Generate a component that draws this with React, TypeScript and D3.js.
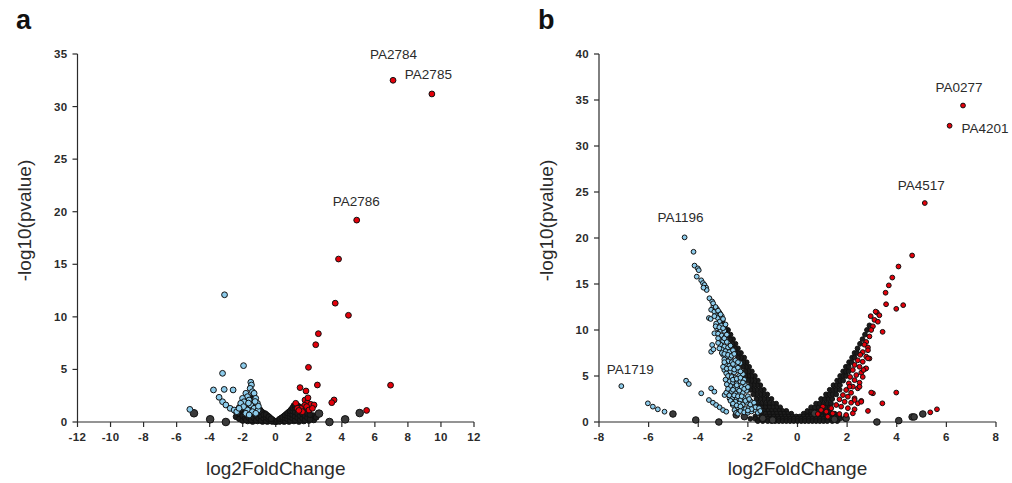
import React from "react";
import * as d3 from "d3";

type P = [number, number];
type Row = [number, number[]];

// ---------- panel a ----------
const aXTicks = [-12, -10, -8, -6, -4, -2, 0, 2, 4, 6, 8, 10, 12];
const aYTicks = [0, 5, 10, 15, 20, 25, 30, 35];

const aRed: P[] = [
  [7.1, 32.5], [9.45, 31.2], [4.9, 19.2], [3.8, 15.5], [3.6, 11.3], [4.4, 10.15],
  [2.58, 8.4], [2.42, 7.35], [1.98, 5.2], [2.52, 3.52], [6.95, 3.5], [1.47, 3.27],
  [1.83, 2.95], [3.53, 2.1], [3.39, 1.84], [5.5, 1.1], [1.21, 1.78], [1.77, 2.09],
  [1.92, 1.84], [2.12, 1.68], [1.75, 1.59], [1.87, 1.46], [1.51, 1.3], [2.01, 1.14],
  [2.32, 1.62], [1.61, 0.98], [1.31, 1.3], [2.22, 1.3], [1.95, 2.3], [1.4, 1.1],
];

const aBlue: P[] = [
  [-3.1, 12.1], [-1.95, 5.36], [-3.22, 4.63], [-1.51, 3.78], [-1.47, 3.52], [-1.55, 3.2],
  [-1.41, 2.88], [-1.31, 2.73], [-3.77, 3.05], [-3.12, 3.1], [-2.58, 3.05], [-3.43, 2.35],
  [-3.22, 1.93], [-3.02, 1.62], [-2.76, 1.3], [-2.52, 1.14], [-2.36, 0.98], [-1.81, 2.73],
  [-1.71, 2.41], [-2.01, 2.25], [-1.92, 1.93], [-2.12, 1.78], [-1.61, 2.09], [-1.21, 2.25],
  [-1.11, 1.78], [-1.51, 1.62], [-1.31, 1.3], [-1.71, 1.14], [-1.07, 1.14], [-1.95, 1.46],
  [-2.22, 1.3], [-1.41, 0.98], [-1.81, 0.83], [-1.21, 0.83], [-1.61, 0.67], [-5.2, 1.2],
  [-1.05, 1.5], [-1.25, 1.95], [-1.65, 1.8],
];

const aGrey: P[] = [
  [-4.95, 0.83], [-3.97, 0.26], [-3.02, 0], [2.62, 0.8], [3.25, 0], [4.2, 0.25], [5.08, 0.85],
];

// black cloud, listed by column: [x, ys]
const aBlackCols: Row[] = [
  [-2.4, [0.5, 1.0]], [-2.2, [0.3, 0.8, 1.4]], [-2.0, [0.15, 0.6, 1.1, 1.6]],
  [-1.85, [0.35, 0.9, 1.4, 1.9]], [-1.7, [0.1, 0.6, 1.15, 1.7, 2.2]],
  [-1.55, [0.3, 0.8, 1.3, 1.8, 2.3]], [-1.4, [0.05, 0.5, 1.0, 1.5, 2.0]],
  [-1.25, [0.25, 0.7, 1.2, 1.65]], [-1.1, [0.1, 0.5, 0.95, 1.4]], [-0.95, [0.3, 0.7, 1.15]],
  [-0.8, [0.05, 0.45, 0.9]], [-0.65, [0.2, 0.55, 0.8]], [-0.5, [0.05, 0.35, 0.6]],
  [-0.35, [0.15, 0.4]], [-0.2, [0.05, 0.22]], [-0.08, [0.08]], [0, [0.02]], [0.1, [0.1]],
  [0.22, [0.05, 0.25]], [0.35, [0.15, 0.38]], [0.5, [0.05, 0.3, 0.55]],
  [0.65, [0.2, 0.5, 0.75]], [0.8, [0.05, 0.4, 0.7, 0.95]], [0.95, [0.25, 0.6, 0.95, 1.2]],
  [1.1, [0.1, 0.45, 0.85, 1.25, 1.55]], [1.25, [0.3, 0.7, 1.1, 1.5]],
  [1.4, [0.05, 0.5, 0.9, 1.3]], [1.55, [0.25, 0.65, 1.05]], [1.7, [0.1, 0.5, 0.85, 1.2]],
  [1.85, [0.3, 0.7]], [2.0, [0.15, 0.55, 0.95]], [2.15, [0.35]], [2.3, [0.2, 0.6]], [2.45, [0.45]],
  [-1.78, [0.2, 0.75, 1.25, 1.75]], [-1.63, [0.4, 0.95, 1.45, 1.95]],
  [-1.48, [0.2, 0.7, 1.2, 1.7, 2.15]], [-1.33, [0.4, 0.85, 1.35, 1.8]],
  [-1.18, [0.15, 0.6, 1.05, 1.5]], [-1.03, [0.35, 0.8, 1.25]], [-0.88, [0.15, 0.55, 1.0]],
  [-0.72, [0.35, 0.7]], [-0.58, [0.1, 0.45, 0.7]], [-0.42, [0.25, 0.5]], [-0.28, [0.1, 0.3]],
  [0.28, [0.1, 0.3]], [0.42, [0.25, 0.45]], [0.58, [0.1, 0.4, 0.65]], [0.72, [0.3, 0.6, 0.85]],
  [0.88, [0.15, 0.5, 0.8, 1.05]], [1.03, [0.35, 0.7, 1.05, 1.35]],
  [1.18, [0.2, 0.55, 0.95, 1.35, 1.6]], [1.33, [0.4, 0.8, 1.2, 1.55]],
  [1.48, [0.2, 0.6, 1.0, 1.4]], [1.63, [0.35, 0.75, 1.15]], [1.78, [0.2, 0.6, 1.0]],
  [1.92, [0.4, 0.8]], [2.08, [0.25, 0.7]],
];

// ---------- panel b ----------
const bXTicks = [-8, -6, -4, -2, 0, 2, 4, 6, 8];
const bYTicks = [0, 5, 10, 15, 20, 25, 30, 35, 40];

const bRed: P[] = [
  [6.67, 34.4], [6.13, 32.2], [5.13, 23.8], [4.62, 18.1], [4.07, 16.9], [3.82, 15.7],
  [3.68, 14.85], [3.55, 14.05], [3.57, 12.8], [3.98, 12.3], [4.26, 12.7], [3.43, 9.8],
  [3.98, 3.2], [3.04, 3.12], [3.42, 2.03], [2.84, 1.2], [5.62, 1.38], [5.35, 1.05],
  [3.2, 11.9], [3.3, 11.6], [3.1, 11.1], [3.24, 10.9], [3.04, 10.4], [2.97, 10.0],
  [2.9, 9.3], [2.77, 8.7], [2.7, 8.4], [2.84, 8.1], [2.63, 7.6], [2.84, 7.8],
  [2.53, 7.3], [2.77, 7.1], [2.9, 6.9], [2.43, 6.7], [2.63, 6.55], [2.3, 6.2],
  [2.5, 6.0], [2.74, 5.8], [2.23, 5.65], [2.57, 5.36], [2.37, 5.1], [2.12, 4.9],
  [2.63, 4.9], [2.3, 4.55], [2.5, 4.27], [2.07, 4.2], [2.23, 3.84], [2.43, 3.66],
  [1.96, 3.48], [2.16, 3.18], [1.83, 2.93], [2.03, 2.75], [2.3, 2.57], [1.69, 2.46],
  [1.9, 2.2], [2.16, 2.1], [2.43, 2.03], [2.57, 2.3], [1.56, 1.85], [1.76, 1.67],
  [2.03, 1.5], [2.3, 1.38], [1.36, 1.5], [1.16, 1.12], [1.42, 0.94], [1.69, 0.87],
  [1.02, 1.67], [0.82, 0.87], [1.96, 0.76], [1.22, 0.58], [2.23, 0.94], [0.95, 1.3],
  [2.97, 3.2], [2.57, 2.2], [2.3, 2.39], [2.5, 3.84], [2.1, 3.84], [2.77, 5.83],
  [2.66, 5.65], [2.84, 6.92], [2.95, 11.5], [3.15, 12.0],
];

const bBlue: P[] = [
  [-7.1, 3.9], [-6.03, 2.03], [-5.83, 1.67], [-5.63, 1.38], [-5.36, 1.12],
  [-4.49, 4.49], [-4.38, 4.13], [-3.88, 3.12],
  [-4.55, 20.07], [-4.19, 18.5], [-4.15, 17.0], [-4.02, 16.7], [-3.98, 16.5], [-4.06, 15.8],
  [-3.88, 15.4], [-3.81, 15.1], [-3.75, 14.9], [-3.68, 14.6], [-3.66, 14.35], [-3.79, 14.6],
  [-3.55, 13.45], [-3.44, 13.1], [-3.39, 12.6], [-3.48, 12.2], [-3.35, 12.0], [-3.28, 11.6],
  [-3.21, 11.3], [-3.14, 10.9], [-3.28, 10.7], [-3.08, 10.5], [-3.57, 11.3], [-3.5, 11.2],
  [-3.44, 8.37], [-3.48, 7.64], [-3.39, 7.9], [-3.35, 9.64], [-2.95, 5.65], [-2.87, 5.29],
  [-3.48, 3.66], [-3.35, 3.3], [-3.57, 2.39], [-3.41, 2.1], [-3.28, 1.85], [-3.14, 1.6],
  [-3.0, 1.3], [-2.87, 1.12], [-2.94, 2.93], [-2.87, 3.19], [-2.74, 2.57], [-2.61, 1.85],
  [-2.54, 1.3], [-2.47, 1.0], [-2.4, 0.9],
  [-3.25, 12.3], [-3.15, 11.9], [-3.05, 11.5],
  [-3.25, 10.2], [-3.1, 10.0], [-2.95, 9.9], [-3.2, 9.6], [-3.05, 9.4], [-2.9, 9.3],
  [-3.15, 9.0], [-3.0, 8.8], [-2.85, 8.7], [-3.1, 8.4], [-2.95, 8.2], [-2.8, 8.1],
  [-3.05, 7.9], [-2.9, 7.7], [-2.75, 7.6], [-2.6, 7.8], [-3.0, 7.3], [-2.85, 7.1], [-2.7, 7.0],
  [-2.95, 6.8], [-2.8, 6.6], [-2.65, 6.5], [-2.5, 6.7], [-2.9, 6.3], [-2.75, 6.1], [-2.6, 6.0],
  [-2.45, 6.2], [-2.7, 5.5], [-2.55, 5.4], [-2.4, 5.6], [-2.8, 5.0], [-2.65, 4.9], [-2.5, 4.8],
  [-2.35, 5.0], [-2.2, 5.2], [-2.75, 4.4], [-2.6, 4.3], [-2.45, 4.2], [-2.3, 4.4], [-2.15, 4.6],
  [-2.7, 3.9], [-2.55, 3.7], [-2.4, 3.6], [-2.25, 3.8], [-2.1, 4.0], [-2.65, 3.3], [-2.5, 3.1],
  [-2.35, 3.0], [-2.2, 3.2], [-2.05, 3.4], [-2.6, 2.7], [-2.45, 2.6], [-2.3, 2.4], [-2.15, 2.6],
  [-2.0, 2.8], [-2.5, 2.2], [-2.35, 2.0], [-2.2, 1.9], [-2.05, 2.1], [-1.9, 2.3], [-2.4, 1.6],
  [-2.25, 1.5], [-2.1, 1.4], [-1.95, 1.6], [-1.8, 1.8], [-2.3, 1.2], [-2.15, 1.05], [-2.0, 1.0],
  [-1.85, 1.15], [-1.7, 1.3], [-1.6, 1.0],
  [-3.4, 12.9], [-3.3, 12.5], [-3.2, 12.1], [-3.1, 11.7], [-3.35, 11.5], [-3.0, 11.2],
  [-3.3, 10.4], [-3.15, 10.3], [-3.0, 10.2], [-2.9, 10.6], [-3.2, 9.1], [-2.95, 9.1],
  [-2.85, 9.5], [-3.2, 8.6], [-3.15, 8.0], [-3.05, 7.5], [-2.95, 7.4], [-2.8, 7.3],
  [-2.65, 7.2], [-2.55, 7.4], [-2.7, 8.3], [-3.0, 6.0], [-2.85, 5.8], [-2.7, 5.85],
  [-2.55, 5.7], [-2.4, 5.9], [-2.3, 6.4], [-2.4, 6.5], [-2.95, 6.5], [-2.6, 6.3], [-2.3, 5.5],
  [-2.9, 4.6], [-2.85, 4.1], [-2.6, 4.6], [-2.45, 4.7], [-2.3, 4.8], [-2.2, 4.3], [-2.45, 4.0],
  [-2.15, 3.6], [-2.35, 3.4], [-2.6, 3.5], [-2.8, 3.6], [-2.0, 3.8], [-2.75, 2.9], [-2.55, 2.9],
  [-2.4, 2.8], [-2.25, 2.8], [-2.1, 2.3], [-1.95, 2.5], [-2.7, 2.3], [-2.6, 2.0], [-2.45, 1.8],
  [-2.3, 1.7], [-1.9, 1.9], [-1.75, 2.1], [-1.7, 1.6], [-1.85, 1.4], [-2.0, 1.25], [-1.55, 1.5],
  [-1.5, 1.2],
];

const bGrey: P[] = [
  [-5.02, 0.87], [-4.1, 0.22], [-3.17, 0], [-2.47, 0.76], [-2.14, 0.58], [-1.4, 0.4],
  [-1.0, 0.22], [0.69, 0.94], [1.49, 0.29], [1.96, 0.4], [3.2, 0], [4.08, 0.15],
  [4.62, 0.55], [4.7, 0.55], [5.05, 0.87],
];

// black band, listed by row: [y, xs]
const bBlackRows: Row[] = [
  [11.0, [-3.02]], [10.5, [-2.92]], [10.0, [-2.8, -2.9]], [9.5, [-2.7, -2.8]],
  [9.0, [-2.6, -2.72]], [8.5, [-2.5, -2.62]], [8.0, [-2.4, -2.52, -2.64]],
  [7.5, [-2.28, -2.4, -2.52]], [7.0, [-2.15, -2.28, -2.4]],
  [6.5, [-2.05, -2.18, -2.3]], [6.0, [-1.95, -2.08, -2.2]],
  [5.5, [-1.84, -1.97, -2.1]], [5.0, [-1.72, -1.85, -1.98, -2.1]],
  [4.5, [-1.6, -1.73, -1.86, -1.99]], [4.0, [-1.5, -1.63, -1.76, -1.89]],
  [3.5, [-1.36, -1.5, -1.64, -1.78, -1.9]], [3.0, [-1.22, -1.36, -1.5, -1.64, -1.78]],
  [2.5, [-1.05, -1.2, -1.35, -1.5, -1.65]], [2.0, [-0.86, -1.0, -1.15, -1.3, -1.45, -1.6]],
  [1.6, [-0.7, -0.85, -1.0, -1.15, -1.3, -1.45, -1.6]],
  [1.2, [-0.45, -0.6, -0.75, -0.9, -1.05, -1.2, -1.35, -1.5]],
  [0.9, [-0.25, -0.4, -0.55, -0.7, -0.85, -1.0, -1.15, -1.3, -1.5, 0.25, 0.4, 0.55, 0.7, 0.85, 1.0, 1.15, 1.3, 1.5]],
  [1.2, [0.4, 0.55, 0.7, 0.85, 1.0, 1.15, 1.3]], [1.6, [0.55, 0.7, 0.85, 1.0, 1.15, 1.3]],
  [2.0, [0.75, 0.9, 1.05, 1.2, 1.35]], [2.5, [0.95, 1.1, 1.25, 1.4]],
  [3.0, [1.15, 1.28, 1.42, 1.56]], [3.5, [1.3, 1.43, 1.56, 1.7]], [4.0, [1.45, 1.58, 1.71]],
  [4.5, [1.6, 1.72, 1.84]], [5.0, [1.72, 1.84, 1.96]], [5.5, [1.84, 1.95, 2.06]],
  [6.0, [1.95, 2.06]], [6.5, [2.08, 2.18]], [7.0, [2.2, 2.3]], [7.5, [2.3, 2.4]],
  [8.0, [2.42]], [8.5, [2.52]], [9.0, [2.62]], [9.5, [2.72]], [10.0, [2.8]], [10.5, [2.9]],
  [0.6, [-1.7, -1.45, -1.25, -1.1, -0.95, -0.8, -0.65, -0.5, -0.35, -0.2, -0.05, 0.1, 0.25, 0.4, 0.55, 0.7, 0.85, 1.0, 1.15, 1.3, 1.5, 1.7]],
  [0.35, [-1.9, -1.7, -1.5, -1.35, -1.2, -1.05, -0.9, -0.75, -0.6, -0.45, -0.3, -0.15, 0, 0.15, 0.3, 0.45, 0.6, 0.75, 0.9, 1.05, 1.2, 1.35, 1.5, 1.7, 1.9]],
  [0.1, [-1.6, -1.4, -1.2, -1.05, -0.9, -0.75, -0.6, -0.45, -0.3, -0.15, 0, 0.15, 0.3, 0.45, 0.6, 0.75, 0.9, 1.05, 1.2, 1.4, 1.6]],
];

const aLabels: { text: string; at: P; dx: number; dy: number }[] = [
  { text: "PA2784", at: [7.1, 32.5], dx: -23, dy: -21 },
  { text: "PA2785", at: [9.45, 31.2], dx: -27, dy: -15 },
  { text: "PA2786", at: [4.9, 19.2], dx: -24, dy: -14 },
];
const bLabels: { text: string; at: P; dx: number; dy: number }[] = [
  { text: "PA0277", at: [6.67, 34.4], dx: -27.5, dy: -14 },
  { text: "PA4201", at: [6.13, 32.2], dx: 12, dy: 7 },
  { text: "PA4517", at: [5.13, 23.8], dx: -27, dy: -13 },
  { text: "PA1196", at: [-4.55, 20.07], dx: -27, dy: -15 },
  { text: "PA1719", at: [-7.1, 3.9], dx: -14.5, dy: -12 },
];

const FONT = "'Liberation Sans', Arial, sans-serif";
const INK = "#2b2b2b";
const BLUE = "#8ccbeb";
const RED = "#e4000a";

const colsToPoints = (cols: Row[]): P[] => cols.flatMap(([x, ys]) => ys.map((v) => [x, v] as P));
const rowsToPoints = (rows: Row[]): P[] => rows.flatMap(([v, xs]) => xs.map((x) => [x, v] as P));

type PanelProps = {
  letter: string;
  letterX: number;
  xDomain: [number, number];
  xRange: [number, number];
  yMax: number;
  xTicks: number[];
  yTicks: number[];
  black: P[];
  grey: P[];
  blue: P[];
  red: P[];
  labels: { text: string; at: P; dx: number; dy: number }[];
  r: number;
  titleX: number;
};

function Panel(p: PanelProps) {
  const x = d3.scaleLinear().domain(p.xDomain).range(p.xRange);
  const y = d3.scaleLinear().domain([0, p.yMax]).range([422, 54]);
  const x0 = p.xRange[0];
  const y0 = y(0);
  const dots = (pts: P[], fill: string, r: number, key: string) =>
    pts.map((d, i) => (
      <circle key={key + i} cx={x(d[0])} cy={y(d[1])} r={r} fill={fill} stroke="#111" strokeWidth={1} />
    ));
  const midX = (p.xRange[0] + p.xRange[1]) / 2;
  return (
    <g fontFamily={FONT}>
      <text x={p.letterX} y={29} fontSize={27} fontWeight="bold" fill="#111">{p.letter}</text>
      {/* axes */}
      <line x1={x0} x2={p.xRange[1]} y1={y0} y2={y0} stroke={INK} strokeWidth={1.2} />
      <line x1={x0} x2={x0} y1={y0} y2={y(p.yMax)} stroke={INK} strokeWidth={1.2} />
      {p.xTicks.map((t) => (
        <g key={"xt" + t}>
          <line x1={x(t)} x2={x(t)} y1={y0} y2={y0 + 5} stroke={INK} strokeWidth={1.2} />
          <text x={x(t)} y={y0 + 19} textAnchor="middle" fontSize={11.5} fontWeight="bold" letterSpacing={0.4} fill={INK}>{t}</text>
        </g>
      ))}
      {p.yTicks.map((t) => (
        <g key={"yt" + t}>
          <line x1={x0 - 5} x2={x0} y1={y(t)} y2={y(t)} stroke={INK} strokeWidth={1.2} />
          <text x={x0 - 10} y={y(t) + 4} textAnchor="end" fontSize={11.5} fontWeight="bold" letterSpacing={0.4} fill={INK}>{t}</text>
        </g>
      ))}
      <text x={midX} y={475} textAnchor="middle" fontSize={19} fill={INK}>log2FoldChange</text>
      <text transform={`translate(${p.titleX},220.5) rotate(-90)`} textAnchor="middle" fontSize={19} fill={INK}>
        -log10(pvalue)
      </text>
      {/* points */}
      {dots(p.black, "#1c1c1c", p.r, "k")}
      {dots(p.grey, "#3a3a3a", p.r + 0.9, "g")}
      {dots(p.blue, BLUE, p.r, "b")}
      {dots(p.red, RED, p.r, "r")}
      {p.labels.map((l) => (
        <text key={l.text} x={x(l.at[0]) + l.dx} y={y(l.at[1]) + l.dy} fontSize={13.5} fill={INK}>{l.text}</text>
      ))}
    </g>
  );
}

export default function App() {
  return (
    <svg width={1012} height={483} style={{ position: "absolute", left: 0, top: 0, background: "#fff" }}>
      <rect width={1012} height={483} fill="#fff" />
      <Panel
        letter="a" letterX={16} xDomain={[-12, 12]} xRange={[77.5, 474]} yMax={35}
        xTicks={aXTicks} yTicks={aYTicks} black={colsToPoints(aBlackCols)} grey={aGrey}
        blue={aBlue} red={aRed} labels={aLabels} r={2.9} titleX={31}
      />
      <Panel
        letter="b" letterX={538} xDomain={[-8, 8]} xRange={[599, 996]} yMax={40}
        xTicks={bXTicks} yTicks={bYTicks} black={rowsToPoints(bBlackRows)} grey={bGrey}
        blue={bBlue} red={bRed} labels={bLabels} r={2.4} titleX={553}
      />
    </svg>
  );
}
